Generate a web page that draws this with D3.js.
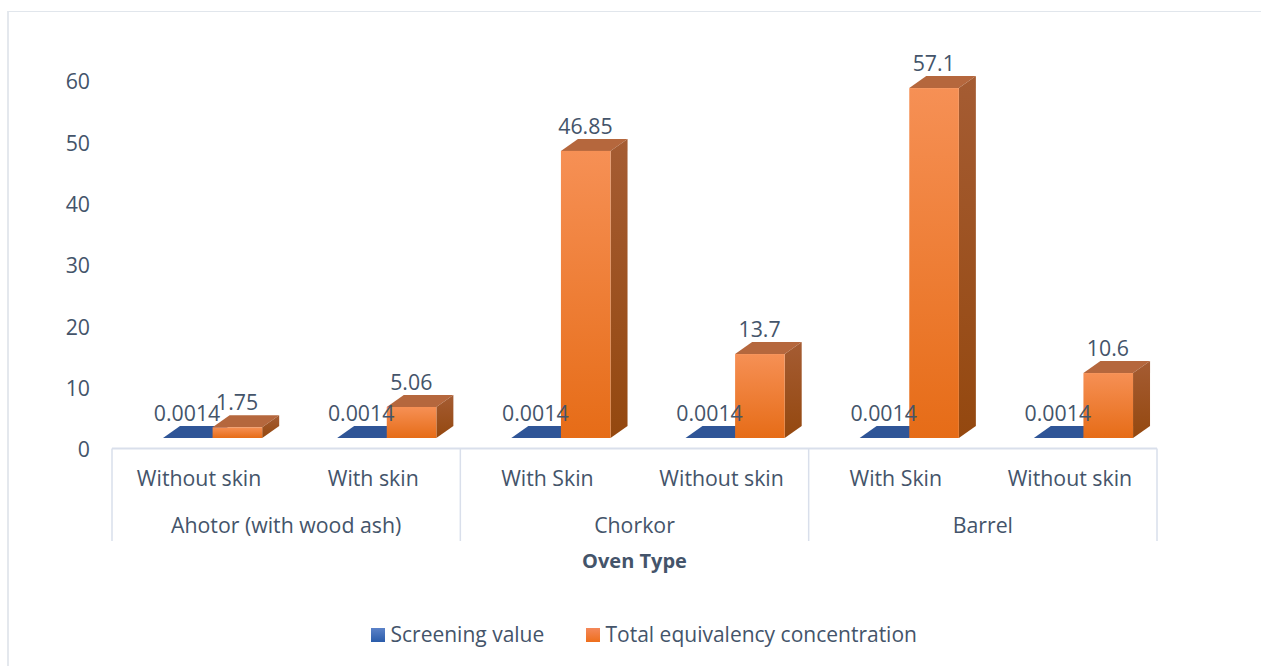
<!DOCTYPE html>
<html><head><meta charset="utf-8">
<script src="https://cdn.jsdelivr.net/npm/d3@7"></script>
<style>html,body{margin:0;padding:0;background:#fff}svg{display:block}text{font-family:"Open Sans","Noto Sans",sans-serif;fill:#44546a}</style>
</head><body><svg id="c" width="1261" height="666"></svg>
<script>
const groups = ["Ahotor (with wood ash)","Chorkor","Barrel"];
const categories = ["Without skin","With skin","With Skin","Without skin","With Skin","Without skin"];
const screening = [0.0014,0.0014,0.0014,0.0014,0.0014,0.0014];
const total = [1.75,5.06,46.85,13.7,57.1,10.6];
const totalLabels = ["1.75","5.06","46.85","13.7","57.1","10.6"];
const yTicks = [0,10,20,30,40,50,60];
const seriesNames = ["Screening value","Total equivalency concentration"];

const svg = d3.select("#c");
const defs = svg.append("defs");
function grad(id,a,b){const g=defs.append("linearGradient").attr("id",id).attr("x1",0).attr("y1",0).attr("x2",0).attr("y2",1);
 g.append("stop").attr("offset",0).attr("stop-color",a);g.append("stop").attr("offset",1).attr("stop-color",b);}
grad("gO","#f69055","#e66c17");
grad("gS","#a55c33","#94480f");
grad("gB","#5b82c8","#2a5caa");
grad("gL","#f4885a","#ee6f1c");

const frameC="#e1e6ec";
svg.append("line").attr("x1",8).attr("x2",1261).attr("y1",11.5).attr("y2",11.5).attr("stroke",frameC).attr("stroke-width",1.2);
svg.append("line").attr("x1",8).attr("x2",8).attr("y1",11).attr("y2",666).attr("stroke",frameC).attr("stroke-width",1.8);

const y = d3.scaleLinear().domain([0,60]).range([438,70.3]);
const x = d3.scaleBand().domain(d3.range(6)).range([112,1157]);
const dx=17, dy=12, bw=49.6, shift=51, fs=21.3;
const axisC="#d9dfeb";
const axisY=y(0)+10.5;

yTicks.forEach(t=>svg.append("text").attr("x",90).attr("y",y(t)+11.7).attr("dy","0.35em").attr("text-anchor","end").attr("font-size",fs).text(t));

svg.append("line").attr("x1",112).attr("x2",1157).attr("y1",axisY).attr("y2",axisY).attr("stroke",axisC).attr("stroke-width",2);
[0,2,4,6].forEach(i=>{const xp=i<6?x(i):x(5)+x.bandwidth();
 svg.append("line").attr("x1",xp).attr("x2",xp).attr("y1",axisY).attr("y2",541).attr("stroke",axisC).attr("stroke-width",1.5);});

const poly=(pts,fill)=>svg.append("polygon").attr("points",pts.map(p=>p.join(",")).join(" ")).attr("fill",fill);
categories.forEach((c,i)=>{
  const x0=x(i)+shift, x1=x0+bw, x2=x1+bw, b=y(0);
  const ts=y(screening[i]);
  poly([[x0,ts],[x1,ts],[x1+dx,ts-dy],[x0+dx,ts-dy]],"#2f5597");
  const t=y(total[i]);
  poly([[x1,t],[x2,t],[x2+dx,t-dy],[x1+dx,t-dy]],"#b5673d");
  poly([[x2,t],[x2+dx,t-dy],[x2+dx,b-dy],[x2,b]],"url(#gS)");
  svg.append("rect").attr("x",x1).attr("y",t).attr("width",bw).attr("height",b-t).attr("fill","url(#gO)");
});
categories.forEach((c,i)=>{
  const x0=x(i)+shift, x1=x0+bw;
  svg.append("text").attr("x",x0+24).attr("y",y(screening[i])-24.5).attr("dy","0.35em").attr("text-anchor","middle").attr("font-size",fs).text(screening[i]);
  svg.append("text").attr("x",x1+24.5).attr("y",y(total[i])-24.5).attr("dy","0.35em").attr("text-anchor","middle").attr("font-size",fs).text(totalLabels[i]);
  svg.append("text").attr("x",x(i)+x.bandwidth()/2).attr("y",478.7).attr("dy","0.35em").attr("text-anchor","middle").attr("font-size",fs).text(c);
});
groups.forEach((g,i)=>svg.append("text").attr("x",x(i*2)+x.bandwidth()).attr("y",525.5).attr("dy","0.35em").attr("text-anchor","middle").attr("font-size",fs).text(g));
svg.append("text").attr("x",634.5).attr("y",561).attr("dy","0.35em").attr("text-anchor","middle").attr("font-size",20).attr("font-weight",700).text("Oven Type");

const lx=[371,586];
seriesNames.forEach((n,i)=>{
  svg.append("rect").attr("x",lx[i]).attr("y",628).attr("width",14).attr("height",14).attr("fill",i?"url(#gL)":"url(#gB)");
  svg.append("text").attr("x",lx[i]+19.5).attr("y",635).attr("dy","0.35em").attr("font-size",21).text(n);
});
</script></body></html>
